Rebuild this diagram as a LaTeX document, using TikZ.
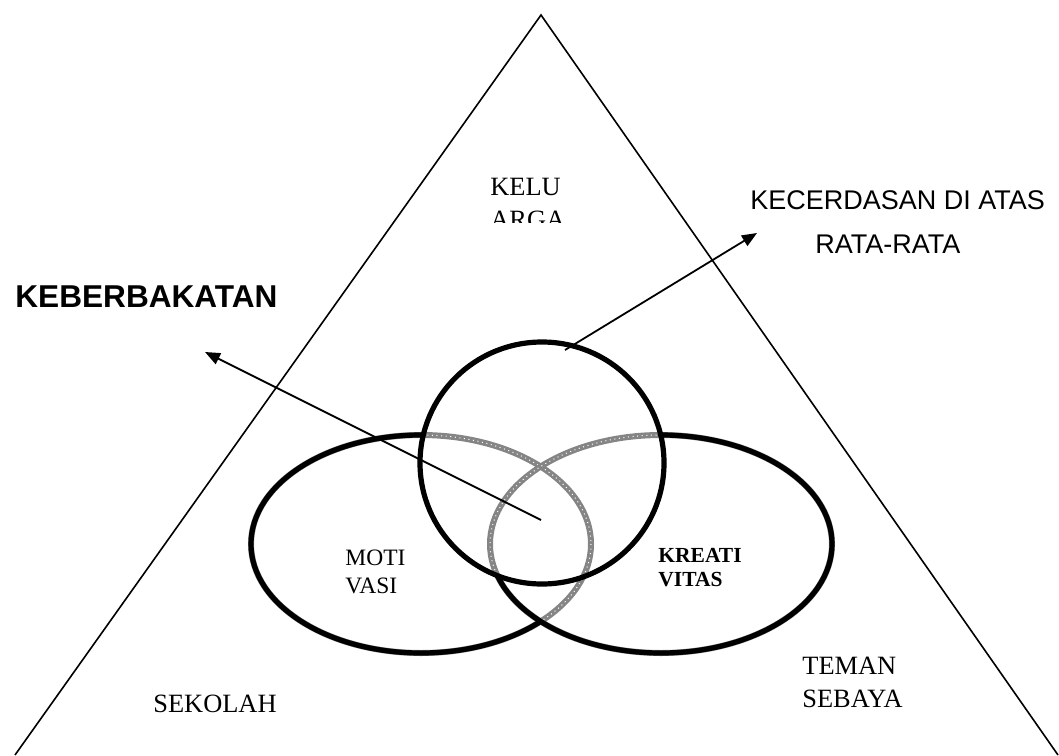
\documentclass[tikz,border=0pt]{standalone}
\usepackage{fontspec}
\setmainfont{Liberation Serif}
\setsansfont{Liberation Sans}
\usetikzlibrary{arrows.meta}
\definecolor{ringline}{HTML}{000000}
\definecolor{hatchline}{HTML}{858585}
\tikzset{
  ring/.style      = {draw=ringline, line width=2.6pt},
  hatchring/.style = {draw=hatchline, line width=3pt,
                      postaction={draw=white, line width=0.5pt, dash pattern=on 0.5pt off 1.8pt}},
  edge/.style      = {draw=black, line width=0.8pt},
  pointer/.style   = {-{Triangle[length=7.5pt, width=6pt]}, line width=0.9pt},
  txt/.style       = {anchor=north west, inner sep=0pt, align=left,
                      font=\fontsize{13.2}{16.2}\selectfont},
  txtkecil/.style  = {txt, font=\fontsize{11.75}{14}\selectfont},
  txttebal/.style  = {txt, font=\fontsize{10.75}{12}\selectfont\bfseries},
  judul/.style     = {txt, font=\fontsize{15.8}{18}\selectfont\sffamily\bfseries},
  judulsans/.style = {txt, font=\fontsize{13.5}{16}\selectfont\sffamily},
  % ---- the three ovals, as paths ----
  ovalC/.style = {insert path={(542,463) ellipse [x radius=122, y radius=121]}},
  ovalL/.style = {insert path={(421,544) ellipse [x radius=170, y radius=109]}},
  ovalR/.style = {insert path={(661,544) ellipse [x radius=171, y radius=109]}},
}
\begin{document}
\begin{tikzpicture}[x=0.5pt, y=-0.5pt]
  \clip (0,0) rectangle (1059,755);
  % segitiga lingkungan
  \coordinate (puncak) at (541,15);
  \coordinate (kiri) at (15,755);
  \coordinate (kanan) at (1058,755);
  \draw[edge] (kiri) -- (puncak) -- (kanan);

  % bagian yang bertumpuk digambar abu-abu
  \draw[hatchring, ovalL];
  \draw[hatchring, ovalR];
  \begin{scope}[even odd rule]
    \clip (542,463) ellipse [x radius=122, y radius=121] (0,0) rectangle (1059,755);
    \clip (661,544) ellipse [x radius=171, y radius=109] (0,0) rectangle (1059,755);
    \draw[ring, ovalL];
  \end{scope}
  \begin{scope}[even odd rule]
    \clip (542,463) ellipse [x radius=122, y radius=121] (0,0) rectangle (1059,755);
    \draw[ring, ovalR];
  \end{scope}
  \draw[ring, ovalC];

  % teks
  \begin{scope}
    \clip (480,160) rectangle (600,222);
    \node[txt] (keluarga) at (490,178) {KELU\\ARGA};
  \end{scope}
  \node[txt] (sekolah) at (153,695) {SEKOLAH};
  \node[txt] (teman) at (802,657) {TEMAN\\SEBAYA};
  \node[txtkecil] (motivasi) at (345,550) {MOTI\\VASI};
  \node[txttebal] (kreativitas) at (658,548) {KREATI\\VITAS};
  \node[judul] (bakat) at (15,285) {KEBERBAKATAN};
  \node[judulsans] (cerdas) at (750,190) {KECERDASAN DI ATAS};
  \node[judulsans] (rata) at (815,235) {RATA-RATA};

  % panah
  \coordinate (pusat) at (541,520);
  \coordinate (ujungbakat) at (205,352);
  \coordinate (pangkal) at (565,350);
  \coordinate (ujungcerdas) at (757,233);
  \draw[pointer] (pusat) -- (ujungbakat);
  \draw[pointer] (pangkal) -- (ujungcerdas);
\end{tikzpicture}
\end{document}
